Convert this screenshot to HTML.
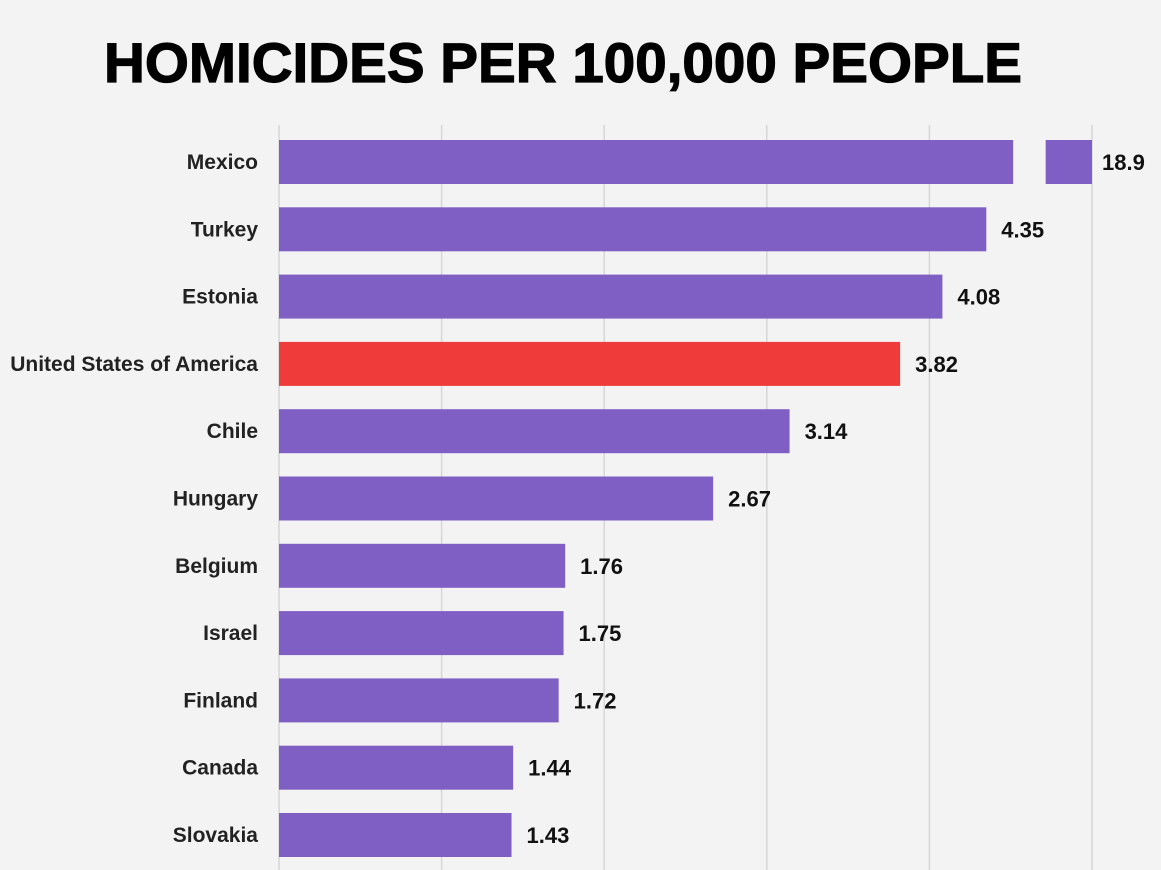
<!DOCTYPE html>
<html><head><meta charset="utf-8"><style>
html,body{margin:0;padding:0;background:#f3f3f3;}
svg{display:block;font-family:"Liberation Sans",sans-serif;}
</style></head><body>
<svg id="chart" width="1161" height="870" viewBox="0 0 1161 870">
<rect width="1161" height="870" fill="#f3f3f3"/>
<text x="563" y="82" text-anchor="middle" font-size="56" font-weight="bold" textLength="918" lengthAdjust="spacingAndGlyphs" fill="#000" stroke="#000" stroke-width="1.2">HOMICIDES PER 100,000 PEOPLE</text>
<g id="grid"></g><g id="bars"></g>
</svg>
<script>
const countries=["Mexico","Turkey","Estonia","United States of America","Chile","Hungary","Belgium","Israel","Finland","Canada","Slovakia"];
const values=[18.9,4.35,4.08,3.82,3.14,2.67,1.76,1.75,1.72,1.44,1.43];
const valueLabels=["18.9","4.35","4.08","3.82","3.14","2.67","1.76","1.75","1.72","1.44","1.43"];
const gridTicks=[0,1,2,3,4,5];
const highlight="United States of America";
const NS="http://www.w3.org/2000/svg";
const x0=279,unit=162.6,axisMax=5,top0=140,step=67.3,barH=44;
const xs=v=>x0+unit*v;
const yRow=i=>top0+i*step;
const grid=document.getElementById('grid'),bars=document.getElementById('bars');
function mk(tag,attrs,parent){const e=document.createElementNS(NS,tag);for(const k in attrs)e.setAttribute(k,attrs[k]);parent.appendChild(e);return e;}
gridTicks.forEach(t=>{
 const l=mk('line',{x1:xs(t),x2:xs(t),y1:125,y2:870,stroke:'#d6d6d6','stroke-width':1.5},grid);
 
 
});
countries.forEach((c,i)=>{
 const y=yRow(i),v=values[i];
 const col=c===highlight?'#ef3b39':'#7f5fc4';
 let end;
 if(v>axisMax){
  const b1=mk('rect',{x:x0,y:y,width:xs(axisMax*0.903)-x0,height:barH,fill:col},bars);
  
  
  const b2=mk('rect',{x:xs(axisMax*0.943),y:y,width:xs(axisMax)-xs(axisMax*0.943),height:barH,fill:col},bars);
  
  
  end=xs(axisMax);
 } else {
  const b=mk('rect',{x:x0,y:y,width:xs(v)-x0,height:barH,fill:col},bars);
  
  
  end=xs(v);
 }
 const lab=mk('text',{x:258,y:y+barH/2+7,'text-anchor':'end','font-size':21,'font-weight':'bold',fill:'#222'},bars);
 lab.textContent=c;
 
 
 const vl=mk('text',{x:end+(v>axisMax?10:15),y:y+barH/2+8,'font-size':22,'font-weight':'bold',fill:'#111'},bars);
 vl.textContent=valueLabels[i];
 
 
});
</script>
</body></html>
